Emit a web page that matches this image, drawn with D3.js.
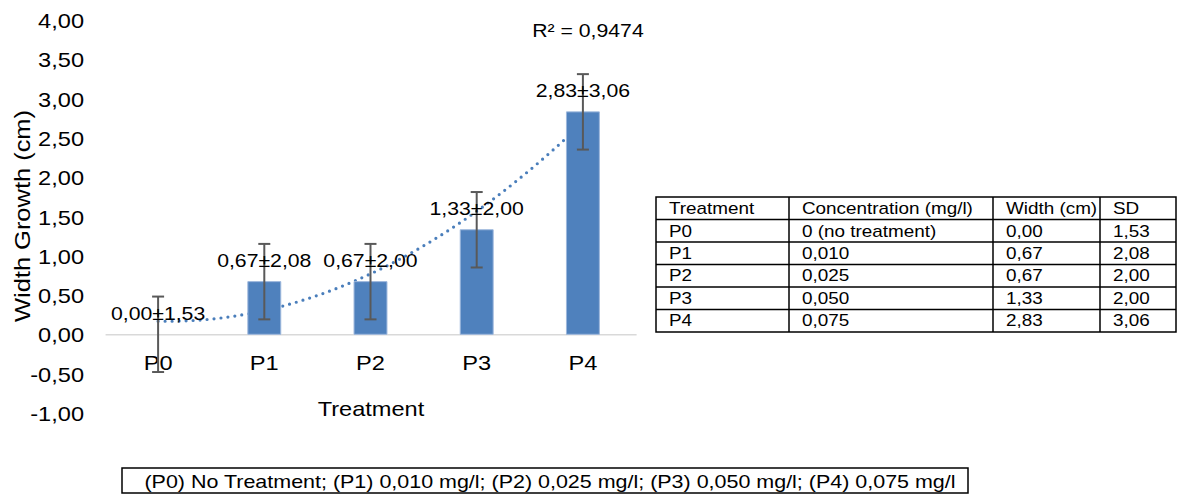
<!DOCTYPE html>
<html><head><meta charset="utf-8">
<script src="https://cdn.jsdelivr.net/npm/d3@7"></script>
<style>html,body{margin:0;padding:0;background:#fff;} svg{display:block;}</style>
</head><body>
<script>
const categories = ["P0","P1","P2","P3","P4"];
const widthValues = [0.00,0.67,0.67,1.33,2.83];
const sdValues = [1.53,2.08,2.00,2.00,3.06];
const errorBars = [0.48,0.48,0.48,0.48,0.48];
const concentrations = ["0 (no treatment)","0,010","0,025","0,050","0,075"];
const yTicks = [-1,-0.5,0,0.5,1,1.5,2,2.5,3,3.5,4];
const tableHeaders = ["Treatment","Concentration (mg/l)","Width (cm)","SD"];
const rSquaredLabel = "R² = 0,9474";
const xTitle = "Treatment";
const yTitle = "Width Growth (cm)";
const captionText = "(P0) No Treatment; (P1) 0,010 mg/l; (P2) 0,025 mg/l; (P3) 0,050 mg/l; (P4) 0,075 mg/l";

const W = 1202, H = 495, SX = 1.18;
const X = v => v / SX;
const fmt = v => d3.format(".2f")(v).replace(".", ",").replace("\u2212", "-");
const FONT = "'Liberation Sans', Arial, sans-serif";

const svg = d3.select("body").append("svg")
  .attr("width", W).attr("height", H)
  .attr("viewBox", `0 0 ${W / SX} ${H}`)
  .attr("preserveAspectRatio", "none")
  .style("font-family", FONT);

const x = d3.scaleBand().domain(categories).range([X(105), X(636)])
  .paddingInner(0.69).paddingOuter(0.345);
const y = d3.scaleLinear().domain([-1, 4]).range([412.9, 19.9]);
const cx = c => x(c) + x.bandwidth() / 2;

// Y axis
const yAxis = svg.append("g").attr("transform", `translate(${X(84)},0)`)
  .call(d3.axisLeft(y).tickValues(yTicks).tickFormat(fmt).tickSize(0).tickPadding(0));
yAxis.select(".domain").remove();
yAxis.selectAll("text").attr("font-size", 20).attr("font-family", FONT).attr("fill", "#000").attr("dy", "0.38em");

// X axis
const xAxis = svg.append("g").attr("transform", `translate(0,${y(0)})`)
  .call(d3.axisBottom(x).tickSize(0).tickSizeOuter(0).tickPadding(22));
xAxis.select(".domain").attr("stroke", "#d9d9d9").attr("stroke-width", 1.5).attr("vector-effect", "non-scaling-stroke");
xAxis.selectAll("text").attr("font-size", 20).attr("font-family", FONT).attr("fill", "#000");

// Trendline (2nd order polynomial least squares fit, as in the spreadsheet)
const xs = widthValues.map((_, i) => i + 1);
function polyFit2(xv, yv) {
  let s = [0,0,0,0,0], t = [0,0,0];
  xv.forEach((xi, i) => {
    for (let k = 0; k < 5; k++) s[k] += Math.pow(xi, k);
    for (let k = 0; k < 3; k++) t[k] += Math.pow(xi, k) * yv[i];
  });
  const M = [[s[0],s[1],s[2],t[0]],[s[1],s[2],s[3],t[1]],[s[2],s[3],s[4],t[2]]];
  for (let i = 0; i < 3; i++) {
    for (let j = i + 1; j < 3; j++) {
      const f = M[j][i] / M[i][i];
      for (let k = i; k < 4; k++) M[j][k] -= f * M[i][k];
    }
  }
  const c = [0,0,0];
  for (let i = 2; i >= 0; i--) {
    let sum = M[i][3];
    for (let k = i + 1; k < 3; k++) sum -= M[i][k] * c[k];
    c[i] = sum / M[i][i];
  }
  return c;
}
const coef = polyFit2(xs, widthValues);
const trendPts = d3.range(1, 5.0001, 0.05).map(t => [t, coef[0] + coef[1] * t + coef[2] * t * t]);
const tx = t => cx(categories[0]) + (t - 1) * x.step();
svg.append("path")
  .attr("d", d3.line().x(d => tx(d[0])).y(d => y(d[1]))(trendPts))
  .attr("fill", "none").attr("stroke", "#4a7ebb").attr("stroke-width", 3.2)
  .attr("stroke-linecap", "round").attr("stroke-dasharray", "0 7")
  .attr("vector-effect", "non-scaling-stroke");

// Bars
svg.append("g").selectAll("rect").data(categories).join("rect")
  .attr("x", c => x(c)).attr("width", x.bandwidth())
  .attr("y", (c, i) => y(Math.max(0, widthValues[i])))
  .attr("height", (c, i) => Math.abs(y(0) - y(widthValues[i])))
  .attr("fill", "#4f81bd").attr("stroke", "#9db7dc").attr("stroke-width", 1)
  .attr("vector-effect", "non-scaling-stroke");

// Error bars
const eg = svg.append("g").attr("stroke", "#595959").attr("stroke-width", 2);
categories.forEach((c, i) => {
  const top = y(widthValues[i] + errorBars[i]), bot = y(widthValues[i] - errorBars[i]);
  eg.append("line").attr("x1", cx(c)).attr("x2", cx(c)).attr("y1", top).attr("y2", bot).attr("vector-effect", "non-scaling-stroke");
  [top, bot].forEach(yy => eg.append("line").attr("x1", cx(c) - X(6)).attr("x2", cx(c) + X(6)).attr("y1", yy).attr("y2", yy).attr("vector-effect", "non-scaling-stroke"));
});

// Data labels
svg.append("g").selectAll("text").data(categories).join("text")
  .attr("x", c => cx(c)).attr("y", (c, i) => y(widthValues[i]) - 21)
  .attr("dy", "0.36em").attr("text-anchor", "middle").attr("font-size", 18).attr("fill", "#000")
  .text((c, i) => fmt(widthValues[i]) + "±" + fmt(sdValues[i]));

// R² label
svg.append("text").attr("x", X(588)).attr("y", 31).attr("dy", "0.36em")
  .attr("text-anchor", "middle").attr("font-size", 18).text(rSquaredLabel);

// Axis titles
svg.append("text").attr("x", X(371)).attr("y", 409).attr("dy", "0.36em")
  .attr("text-anchor", "middle").attr("font-size", 20).text(xTitle);
svg.append("text").attr("transform", `translate(${X(22)},216) rotate(-90)`)
  .attr("dy", "0.36em").attr("text-anchor", "middle").attr("font-size", 19)
  .attr("textLength", 212).attr("lengthAdjust", "spacingAndGlyphs").text(yTitle);

// Table
const colX = [656, 789, 993, 1100, 1176];
const tTop = 197, rowH = 22.5;
const rows = [tableHeaders].concat(categories.map((c, i) => [c, concentrations[i], fmt(widthValues[i]), fmt(sdValues[i])]));
const tg = svg.append("g");
const tb = tTop + rowH * rows.length;
tg.append("rect").attr("x", X(colX[0])).attr("y", tTop).attr("width", X(colX[4] - colX[0])).attr("height", tb - tTop)
  .attr("fill", "none").attr("stroke", "#000").attr("stroke-width", 1.5).attr("vector-effect", "non-scaling-stroke");
for (let r = 1; r < rows.length; r++) {
  tg.append("line").attr("x1", X(colX[0])).attr("x2", X(colX[4])).attr("y1", tTop + r * rowH).attr("y2", tTop + r * rowH)
    .attr("stroke", "#000").attr("stroke-width", 1.5).attr("vector-effect", "non-scaling-stroke");
}
for (let k = 1; k < 4; k++) {
  tg.append("line").attr("x1", X(colX[k])).attr("x2", X(colX[k])).attr("y1", tTop).attr("y2", tb)
    .attr("stroke", "#000").attr("stroke-width", 1.5).attr("vector-effect", "non-scaling-stroke");
}
rows.forEach((row, r) => row.forEach((cell, k) => {
  tg.append("text").attr("x", X(colX[k] + 13)).attr("y", tTop + r * rowH + rowH / 2).attr("dy", "0.36em")
    .attr("font-size", 16).text(cell);
}));

// Caption box
svg.append("rect").attr("x", X(122)).attr("y", 468).attr("width", X(968 - 122)).attr("height", 25)
  .attr("fill", "none").attr("stroke", "#000").attr("stroke-width", 1.5).attr("vector-effect", "non-scaling-stroke");
svg.append("text").attr("x", X(550)).attr("y", 481).attr("dy", "0.36em").attr("text-anchor", "middle")
  .attr("font-size", 18.2).text(captionText);
</script>
</body></html>
